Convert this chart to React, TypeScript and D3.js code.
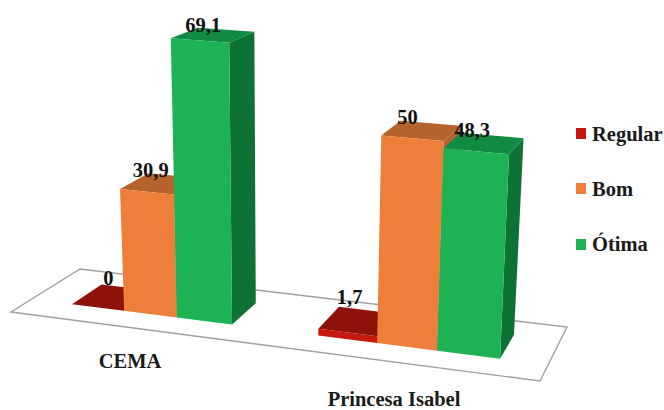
import React from "react";
import * as d3 from "d3";

// Survey results per site, in percent
const categories = ["CEMA", "Princesa Isabel"];
const seriesNames = ["Regular", "Bom", "Ótima"];
const regular = [0, 1.7];
const bom = [30.9, 50];
const otima = [69.1, 48.3];
const valueLabels = [["0", "1,7"], ["30,9", "50"], ["69,1", "48,3"]];

const W = 664;
const H = 410;
const serif = "'Liberation Serif', 'Times New Roman', serif";
const fontSize = 20.5;

type Pt = [number, number];
const corners: Record<string, Pt> = {
  frontLeft: [11, 312],
  frontRight: [540, 381],
  backRight: [567, 327],
  backLeft: [80, 269],
};

// Bar edges along the floor's width; each group has three bars and a gap between groups
const slot = d3.scaleLinear()
  .domain([0, 1, 2, 3, 4.5, 5.5, 6.5, 7.5])
  .range([0.078, 0.179, 0.281, 0.388, 0.555, 0.669, 0.785, 0.907]);
const groupStart = [0, 4.5];
const depthFront = 0.3;
const depthBack = 0.75;

const lerp = (a: Pt, b: Pt, t: number): Pt => [a[0] + (b[0] - a[0]) * t, a[1] + (b[1] - a[1]) * t];

// Floor position plus height above it, with columns converging slightly downward
function project(u: number, v: number, value: number): Pt {
  const near = lerp(corners.frontLeft, corners.frontRight, u);
  const far = lerp(corners.backLeft, corners.backRight, u);
  const [x, y] = lerp(near, far, v);
  const unit = (3.93 + 0.0007 * (x - 177) + 0.0016 * value) * (1 - (v - depthFront) * 0.09);
  return [x + (x - 280) * 0.000845 * value, y - value * unit];
}

const path = d3.line<Pt>().curve(d3.curveLinearClosed);

const palette = [
  { front: "#c5180f", top: "#8e1209", side: "#8e1209" },
  { front: "#ee7f3b", top: "#b5622c", side: "#b5622c" },
  { front: "#1db254", top: "#118a43", side: "#0f7235" },
];
const seriesValues = [regular, bom, otima];

// Label offsets from the centre of each bar's top face
const labelOffset: Pt[][] = [
  [[-4, -13], [-8, -17]],
  [[-10, -7], [-14, -7]],
  [[-10, -3], [-12, -6]],
];

const legendRows = [
  { swatchY: 128, baseline: 141 },
  { swatchY: 183, baseline: 196 },
  { swatchY: 239, baseline: 251 },
];

const categoryLabels = [
  { x: 130, y: 368 },
  { x: 394, y: 406 },
];

export default function App() {
  const floor = [corners.frontLeft, corners.frontRight, corners.backRight, corners.backLeft];
  return (
    <svg width={W} height={H} viewBox={`0 0 ${W} ${H}`}
      style={{ position: "absolute", left: 0, top: 0, background: "#fff" }}>
      <path d={path(floor) ?? ""} fill="#fff" stroke="#a0a0a0" strokeWidth={1.4} />

      {categories.map((c, g) =>
        seriesValues.map((vals, s) => {
          const value = vals[g];
          const u0 = slot(groupStart[g] + s);
          const u1 = slot(groupStart[g] + s + 1);
          const col = palette[s];
          const fl = project(u0, depthFront, value);
          const fr = project(u1, depthFront, value);
          const bl = project(u0, depthBack, value);
          const br = project(u1, depthBack, value);
          const fl0 = project(u0, depthFront, 0);
          const fr0 = project(u1, depthFront, 0);
          const br0 = project(u1, depthBack, 0);
          return (
            <g key={`${c}-${s}`}>
              <path d={path([fr, br, br0, fr0]) ?? ""} fill={col.side} />
              <path d={path([fl, fr, br, bl]) ?? ""} fill={col.top} />
              <path d={path([fl, fr, fr0, fl0]) ?? ""} fill={col.front} />
            </g>
          );
        })
      )}

      {categories.map((c, g) =>
        seriesValues.map((vals, s) => {
          const centre = project(
            (slot(groupStart[g] + s) + slot(groupStart[g] + s + 1)) / 2,
            (depthFront + depthBack) / 2,
            vals[g]
          );
          const [dx, dy] = labelOffset[s][g];
          return (
            <text key={`${c}-label-${s}`} x={centre[0] + dx} y={centre[1] + dy} textAnchor="middle"
              fontFamily={serif} fontWeight="bold" fontSize={fontSize} fill="#111">
              {valueLabels[s][g]}
            </text>
          );
        })
      )}

      {categories.map((c, g) => (
        <text key={c} x={categoryLabels[g].x} y={categoryLabels[g].y} textAnchor="middle"
          fontFamily={serif} fontWeight="bold" fontSize={fontSize} fill="#1a1a1a">
          {c}
        </text>
      ))}

      {seriesNames.map((name, s) => (
        <g key={name}>
          <rect x={576} y={legendRows[s].swatchY} width={10} height={11} fill={palette[s].front} />
          <text x={592} y={legendRows[s].baseline} fontFamily={serif} fontWeight="bold" fontSize={fontSize} fill="#1a1a1a">
            {name}
          </text>
        </g>
      ))}
    </svg>
  );
}
